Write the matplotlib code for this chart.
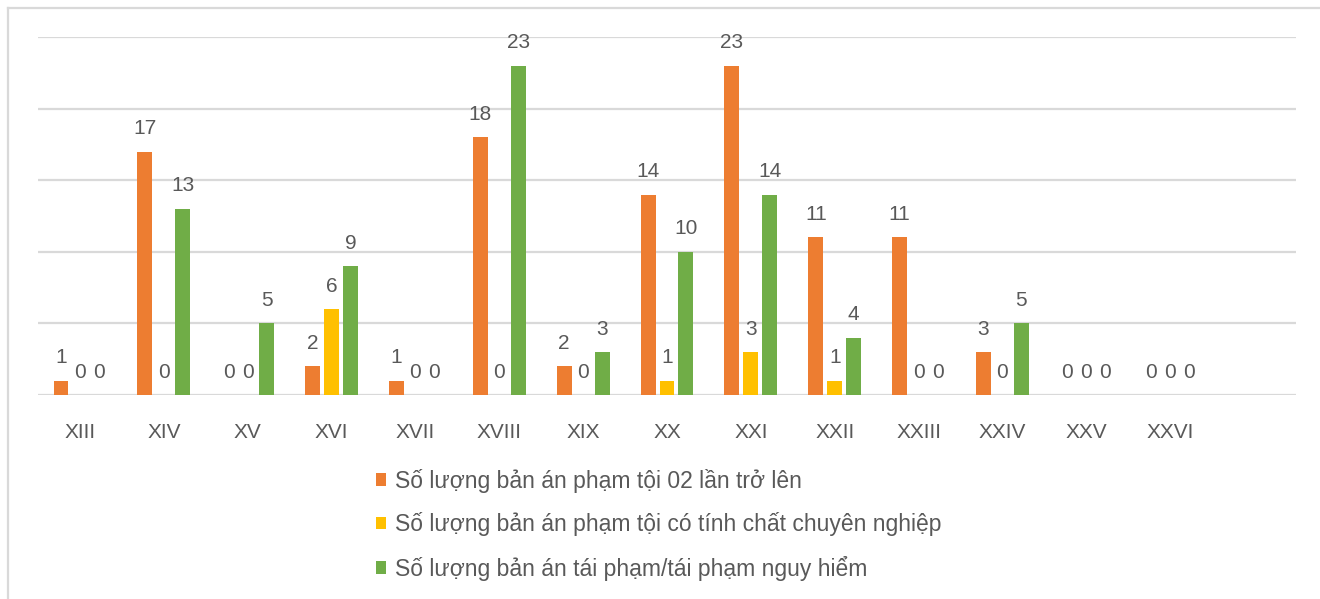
import numpy as np
import matplotlib.pyplot as plt
from matplotlib.lines import Line2D

plt.rcParams['font.family'] = ['Liberation Sans', 'DejaVu Sans']

categories = ["XIII", "XIV", "XV", "XVI", "XVII", "XVIII", "XIX", "XX",
              "XXI", "XXII", "XXIII", "XXIV", "XXV", "XXVI"]
repeat_offence = [1, 17, 0, 2, 1, 18, 2, 14, 23, 11, 11, 3, 0, 0]
professional = [0, 0, 0, 6, 0, 0, 0, 1, 3, 1, 0, 0, 0, 0]
recidivism = [0, 13, 5, 9, 0, 23, 3, 10, 14, 4, 0, 5, 0, 0]

series = [
    ("Số lượng bản án phạm tội 02 lần trở lên", repeat_offence, "#ED7D31"),
    ("Số lượng bản án phạm tội có tính chất chuyên nghiệp", professional, "#FFC000"),
    ("Số lượng bản án tái phạm/tái phạm nguy hiểm", recidivism, "#70AD47"),
]

text_color = "#595959"
grid_color = "#D9D9D9"

fig = plt.figure(figsize=(13.2, 5.99), dpi=100)
ax = fig.add_axes([38 / 1320, 204 / 599, 1258 / 1320, 358 / 599])

x = np.arange(len(categories))
step = 0.226
width = 0.178
for i, (name, vals, color) in enumerate(series):
    pos = x + (i - 1) * step
    bars = ax.bar(pos, vals, width=width, color=color, label=name, zorder=3)
    for b, v in zip(bars, vals):
        ax.annotate(str(v), (b.get_x() + b.get_width() / 2, v),
                    xytext=(0, 12.5), textcoords="offset points",
                    ha="center", va="baseline", fontsize=15,
                    color=text_color)

ax.set_xlim(-0.5, 14.5)
ax.set_ylim(0, 25)
ax.set_yticks(np.arange(0, 26, 5))
ax.yaxis.grid(True, color=grid_color, linewidth=1.6)
ax.set_axisbelow(True)
ax.tick_params(axis="y", left=False, labelleft=False)
ax.set_xticks(x)
ax.set_xticklabels(categories, fontsize=15, color=text_color)
ax.tick_params(axis="x", length=0, pad=20)
for s in ax.spines.values():
    s.set_visible(False)

# outer chart frame: top and left edges only
fig.add_artist(Line2D([8 / 1320, 1], [1 - 8 / 599, 1 - 8 / 599],
                      color=grid_color, linewidth=1.6, transform=fig.transFigure))
fig.add_artist(Line2D([8 / 1320, 8 / 1320], [0, 1 - 8 / 599],
                      color=grid_color, linewidth=1.6, transform=fig.transFigure))

leg = fig.legend(loc="upper left", bbox_to_anchor=(355 / 1320, 1 - 448 / 599),
                 ncol=1, frameon=False, fontsize=16.5, handlelength=0.45,
                 handleheight=0.45, handletextpad=0.4, labelspacing=0.85,
                 labelcolor=text_color)

fig.savefig("out.png", dpi=100)
